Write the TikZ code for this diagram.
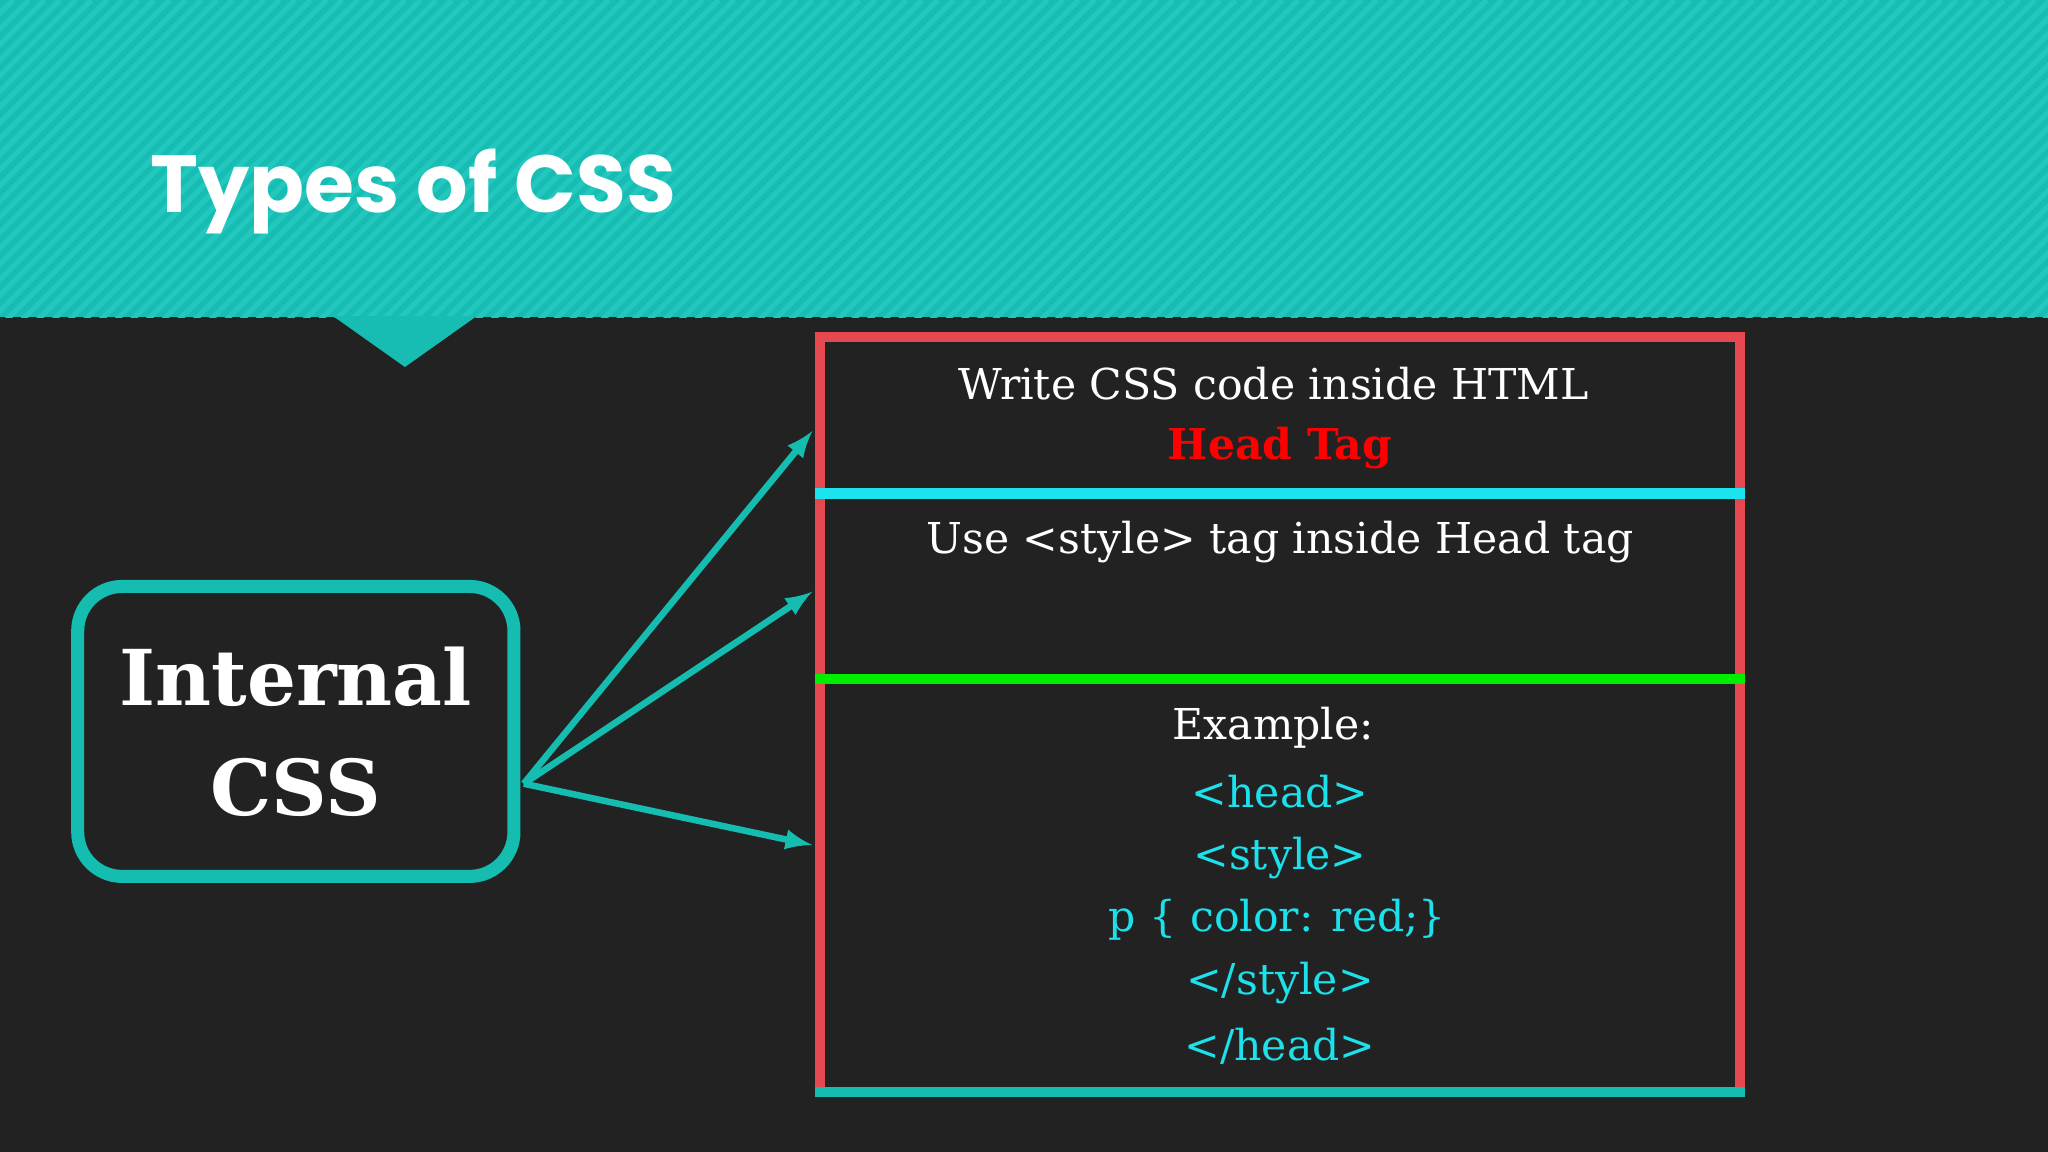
\documentclass[tikz,border=0pt]{standalone}
\usepackage{fontspec}
\setmainfont{DejaVu Serif}
\newfontfamily\titlefont{Poppins}
\begin{document}
\begin{tikzpicture}[x=0.5pt,y=-0.5pt]
\definecolor{bg}{HTML}{222222}
\definecolor{band}{HTML}{17BDB3}
\definecolor{stripe}{HTML}{22C8BE}
\definecolor{tealc}{HTML}{14BDB0}
\definecolor{redb}{HTML}{E5484F}
\definecolor{cyanl}{HTML}{1CE4EE}
\definecolor{greenl}{HTML}{00EE00}
\definecolor{codec}{HTML}{1CE0EA}
\tikzset{arr/.style={draw=tealc,line width=2.5,-latex},
 txt/.style={text=white,font=\fontsize{16.3}{20}\selectfont,inner sep=0},
 code/.style={text=codec,font=\fontsize{16.3}{20}\selectfont,inner sep=0}}
\useasboundingbox (0,0) rectangle (1568,882);
\fill[bg] (0,0) rectangle (1568,882);
\fill[band] (0,0) rectangle (1568,243);
\begin{scope}
\clip (0,0) rectangle (1568,243);
\foreach \i in {-300,-288,...,1900} {\draw[stripe,line width=2] (\i,250) -- (\i+250,0);}
\end{scope}
\fill[band] (255,242) -- (365,242) -- (310,281) -- cycle;
\node[anchor=base west,text=white,font=\titlefont\bfseries\fontsize{31}{36}\selectfont,inner sep=0] (title) at (115,163) {Types of CSS};
% left box
\node[draw=tealc,line width=5,rounded corners=17,minimum width=167,minimum height=111,text=white,align=center,font=\bfseries\fontsize{29.5}{42}\selectfont] (ic) at (226.5,560) {Internal\\CSS};
% right box
\draw[redb,line width=4] (628,258) rectangle (1332,836);
\coordinate (r1) at (622,330); \coordinate (r2) at (622,453); \coordinate (r3) at (622,647);
\draw[cyanl,line width=4] (624,378) -- (1336,378);
\draw[greenl,line width=4] (624,520) -- (1336,520);
\draw[tealc,line width=4] (624,836) -- (1336,836);
\node[txt] (t1) at (975,294) {Write CSS code inside HTML};
\node[inner sep=0,text=red,font=\bfseries\fontsize{16.3}{20}\selectfont] (t2) at (980,343) {Head Tag};
\node[txt] (t3) at (980,415) {Use <style> tag inside Head tag};
\node[txt] (t4) at (975,557) {Example:};
\node[code] (c1) at (980,606) {<head>};
\node[code] (c2) at (980,657) {<style>};
\node[code] (c3) at (978,704) {p \{ color: red;\}};
\node[code] (c4) at (980,753) {</style>};
\node[code] (c5) at (980,801) {</head>};
\coordinate (s) at (401,600);
\draw[arr] (s) -- (r1);
\draw[arr] (s) -- (r2);
\draw[arr] (s) -- (r3);
\end{tikzpicture}
\end{document}
